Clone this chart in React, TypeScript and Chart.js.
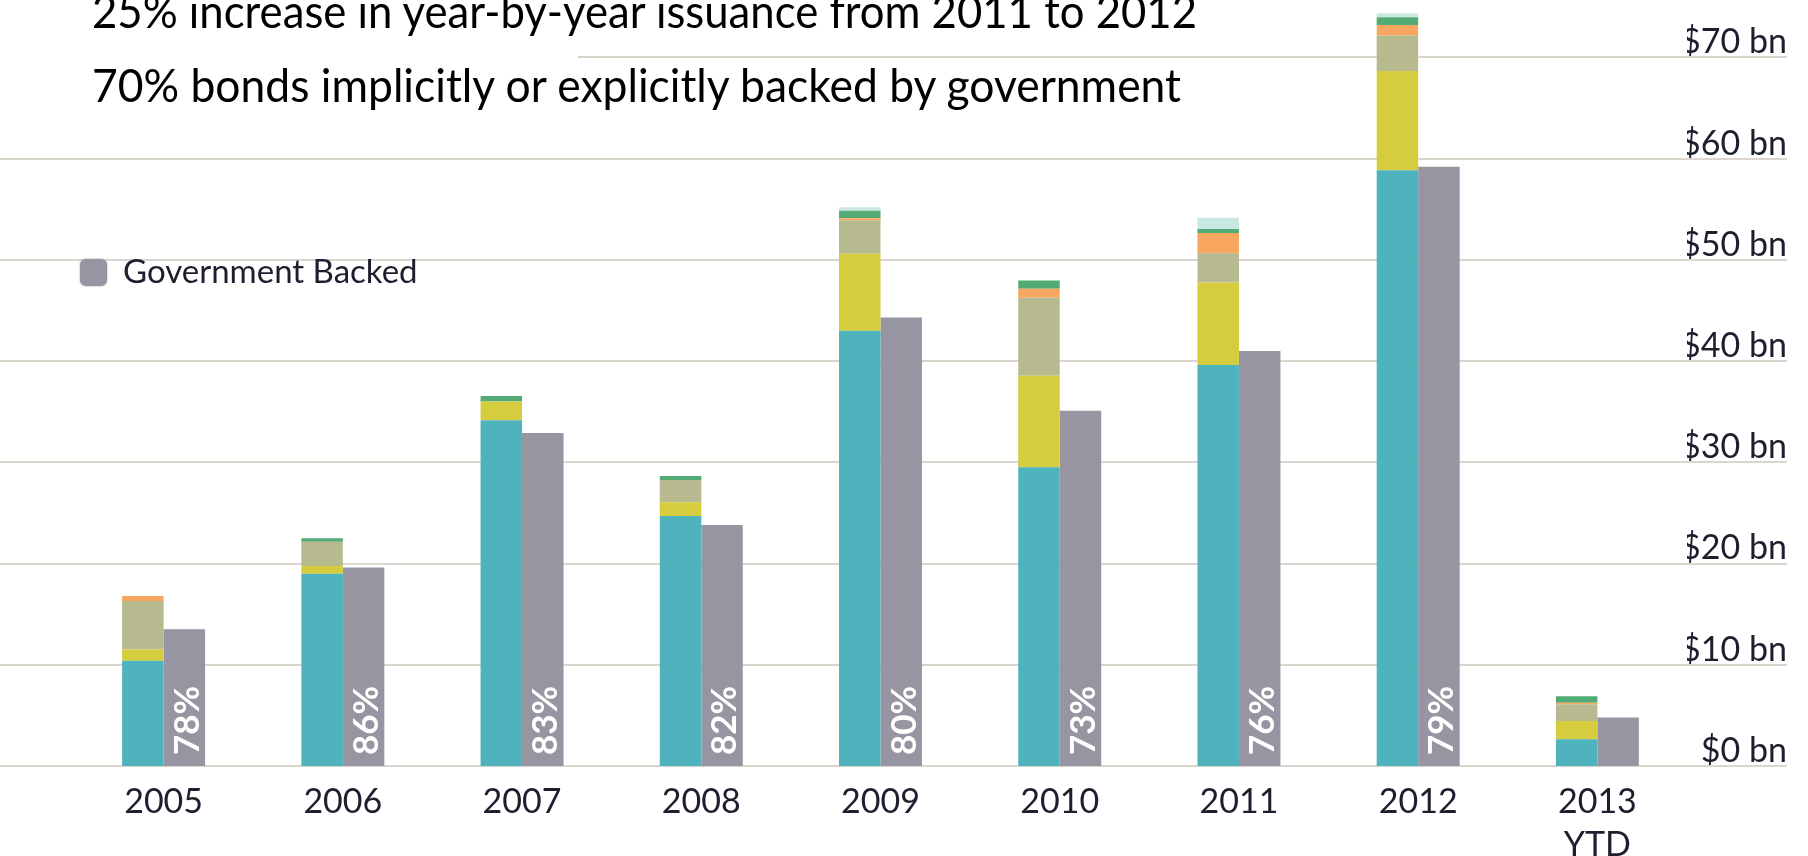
import React, { useEffect, useLayoutEffect, useRef } from "react";
import { Chart, registerables } from "chart.js";

Chart.register(...registerables);

// ---- data ----
const CATEGORIES: (string | string[])[] = ["2005", "2006", "2007", "2008", "2009", "2010", "2011", "2012", ["2013", "YTD"]];
const SEG_TEAL = [10.4, 19.0, 34.15, 24.7, 43.0, 29.5, 39.6, 58.85, 2.65];
const SEG_YELLOW = [1.1, 0.75, 1.85, 1.35, 7.6, 9.05, 8.15, 9.8, 1.8];
const SEG_KHAKI = [4.8, 2.4, 0, 2.2, 3.3, 7.7, 2.9, 3.5, 1.65];
const SEG_ORANGE = [0.5, 0, 0, 0, 0.2, 0.9, 2.0, 1.05, 0.15];
const SEG_GREEN = [0, 0.35, 0.55, 0.4, 0.75, 0.8, 0.4, 0.75, 0.65];
const SEG_CYAN = [0, 0, 0, 0, 0.35, 0, 1.1, 0.4, 0];
const GOV_BACKED = [13.5, 19.6, 32.9, 23.8, 44.3, 35.1, 41.0, 59.2, 4.8];
const GOV_SHARE = ["78%", "86%", "83%", "82%", "80%", "73%", "76%", "79%", ""];
const Y_TICK_STEP = 10;
const HEADLINES = [
  "25% increase in year-by-year issuance from 2011 to 2012",
  "70% bonds implicitly or explicitly backed by government",
];
const LEGEND_LABEL = "Government Backed";

// ---- styles ----
const C_TEAL = "#4fb3be";
const C_YELLOW = "#d5cc3e";
const C_KHAKI = "#b7b98f";
const C_ORANGE = "#f8a660";
const C_GREEN = "#52ab75";
const C_CYAN = "#c9e8e4";
const C_GRAY = "#9695a1";
const C_TEXT = "#1e1e2e";
const C_GRID = "#dcd5ce";

const fullGridPlugin = {
  id: "fullGrid",
  beforeDatasetsDraw(chart: any) {
    const y = chart.scales.y;
    const ctx = chart.ctx;
    ctx.save();
    ctx.strokeStyle = C_GRID;
    ctx.lineWidth = 2;
    y.ticks.forEach((t: any) => {
      const py = Math.round(y.getPixelForValue(t.value));
      ctx.beginPath();
      ctx.moveTo(0, py);
      ctx.lineTo(y.right, py);
      ctx.stroke();
    });
    ctx.restore();
  },
};

const shareLabelPlugin = {
  id: "shareLabels",
  afterDatasetsDraw(chart: any) {
    const idx = chart.data.datasets.length - 1;
    const meta = chart.getDatasetMeta(idx);
    const ctx = chart.ctx;
    ctx.save();
    ctx.fillStyle = "#ffffff";
    ctx.font = "bold 35px Lato";
    ctx.textAlign = "left";
    ctx.textBaseline = "middle";
    meta.data.forEach((bar: any, i: number) => {
      const txt = GOV_SHARE[i];
      if (!txt) return;
      ctx.save();
      ctx.translate(bar.x + 3, bar.base - 11);
      ctx.rotate(-Math.PI / 2);
      ctx.fillText(txt, 0, 0);
      ctx.restore();
    });
    ctx.restore();
  },
};

function PlacedText(props: { text: string; x: number; baseline: number; width?: number; font: string; color: string }) {
  const { text, x, baseline, width, font, color } = props;
  const boxRef = useRef<HTMLDivElement>(null);
  const textRef = useRef<HTMLSpanElement>(null);
  const markRef = useRef<HTMLSpanElement>(null);
  useLayoutEffect(() => {
    const fit = () => {
      const box = boxRef.current, t = textRef.current, m = markRef.current;
      if (!box || !t || !m) return;
      box.style.transform = "none";
      const w = t.getBoundingClientRect().width;
      const b = m.offsetTop;
      box.style.top = `${baseline - b}px`;
      if (width && w > 0) box.style.transform = `scaleX(${width / w})`;
    };
    fit();
    (document as any).fonts?.ready?.then(fit);
  }, [text, x, baseline, width, font]);
  return (
    <div
      ref={boxRef}
      style={{ position: "absolute", left: x, top: 0, whiteSpace: "nowrap", font, color, lineHeight: "normal", transformOrigin: "0 0" }}
    >
      <span ref={textRef}>{text}</span>
      <span ref={markRef} style={{ display: "inline-block", width: 0, height: 0, verticalAlign: "baseline" }} />
    </div>
  );
}

export default function App() {
  const canvasRef = useRef<HTMLCanvasElement>(null);

  useLayoutEffect(() => {
    document.body.style.margin = "0";
  }, []);

  useEffect(() => {
    if (!canvasRef.current) return;
    const seg = (label: string, data: number[], color: string) => ({
      label,
      data,
      backgroundColor: color,
      borderWidth: 0,
      stack: "themes",
    });
    const chart = new Chart(canvasRef.current, {
      type: "bar",
      data: {
        labels: CATEGORIES as any,
        datasets: [
          seg("Segment 1", SEG_TEAL, C_TEAL),
          seg("Segment 2", SEG_YELLOW, C_YELLOW),
          seg("Segment 3", SEG_KHAKI, C_KHAKI),
          seg("Segment 4", SEG_ORANGE, C_ORANGE),
          seg("Segment 5", SEG_GREEN, C_GREEN),
          seg("Segment 6", SEG_CYAN, C_CYAN),
          {
            label: LEGEND_LABEL,
            data: GOV_BACKED,
            backgroundColor: C_GRAY,
            borderWidth: 0,
            stack: "gov",
          },
        ],
      },
      options: {
        animation: false,
        responsive: false,
        devicePixelRatio: 1,
        categoryPercentage: 0.463,
        barPercentage: 1,
        layout: { padding: { left: 74, right: 21, top: 0, bottom: 0 } },
        plugins: {
          legend: { display: false },
          tooltip: { enabled: false },
          title: { display: false },
        },
        scales: {
          x: {
            stacked: true,
            grid: { display: false, drawTicks: false },
            border: { display: false },
            ticks: {
              color: C_TEXT,
              font: { family: "Lato", size: 34, lineHeight: 1.25 },
              padding: 15,
              maxRotation: 0,
              autoSkip: false,
            },
            afterFit: (s: any) => {
              s.height = 90;
              s.paddingLeft = 0;
              s.paddingRight = 0;
            },
          },
          y: {
            position: "right",
            stacked: true,
            min: 0,
            max: 75.66,
            grid: { display: false, drawTicks: false },
            border: { display: false },
            ticks: {
              stepSize: Y_TICK_STEP,
              includeBounds: false,
              crossAlign: "far",
              labelOffset: -15,
              padding: 0,
              color: C_TEXT,
              font: { family: "Lato", size: 34 },
              callback: (v: any) => `$${v} bn`,
            },
            afterFit: (s: any) => {
              s.width = 100;
              s.paddingTop = 0;
              s.paddingBottom = 0;
            },
          },
        },
      } as any,
      plugins: [fullGridPlugin, shareLabelPlugin],
    });
    return () => chart.destroy();
  }, []);

  return (
    <div style={{ position: "relative", width: 1808, height: 856, overflow: "hidden", background: "#ffffff" }}>
      <canvas ref={canvasRef} width={1808} height={856} style={{ position: "absolute", left: 0, top: 0 }} />
      <div style={{ position: "absolute", left: 0, top: 0, width: 578, height: 118, background: "#ffffff" }} />
      <PlacedText text={HEADLINES[0]} x={92} baseline={28} width={1105} font="47px Lato, 'Open Sans', sans-serif" color="#000000" />
      <PlacedText text={HEADLINES[1]} x={92} baseline={102} width={1089} font="47px Lato, 'Open Sans', sans-serif" color="#000000" />
      <div
        style={{
          position: "absolute",
          left: 80,
          top: 259,
          width: 27,
          height: 27,
          borderRadius: 6,
          background: C_GRAY,
          boxShadow: "0 0 2px " + C_GRAY,
        }}
      />
      <PlacedText text={LEGEND_LABEL} x={123} baseline={283} font="33px Lato, sans-serif" color={C_TEXT} />
    </div>
  );
}
